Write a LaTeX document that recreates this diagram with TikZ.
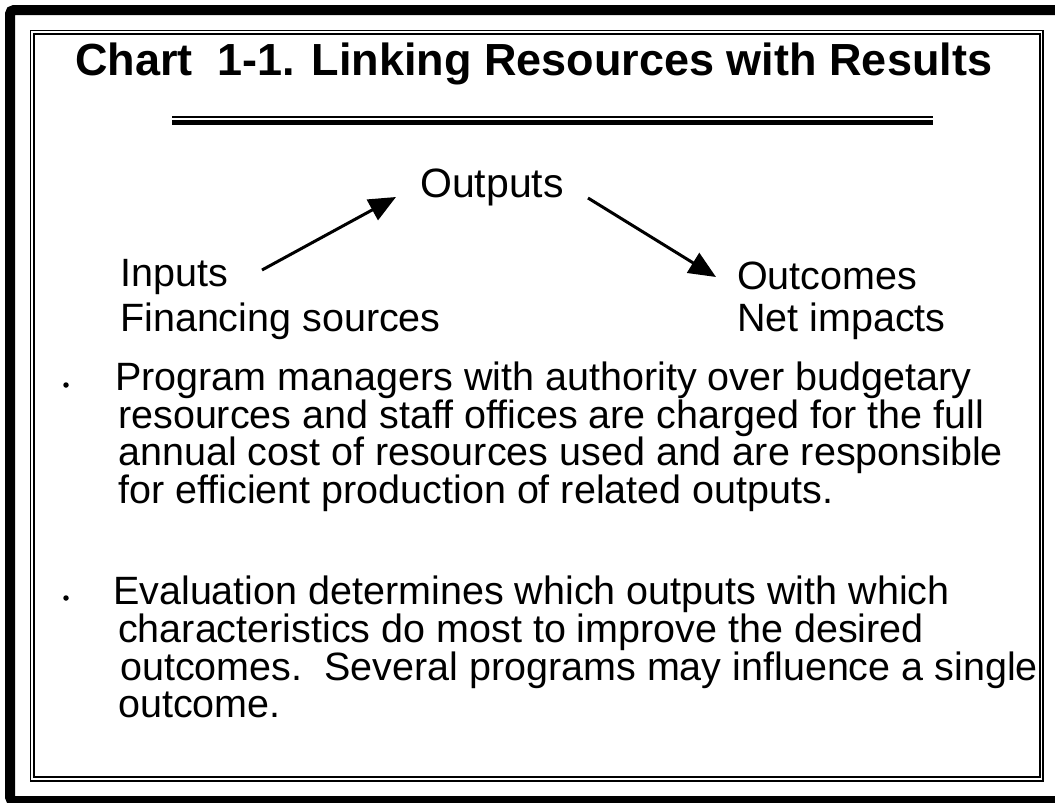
\documentclass[tikz,border=0pt]{standalone}
\usepackage{fontspec}
\setmainfont{Liberation Sans}
\usetikzlibrary{arrows.meta}
\begin{document}
\begin{tikzpicture}[x=1pt,y=-1pt,
  txt/.style={anchor=base west,inner sep=0pt,font=\fontsize{39.5}{40}\selectfont},
  big/.style={anchor=base west,inner sep=0pt,font=\fontsize{41}{41}\selectfont},
  ttl/.style={anchor=base west,inner sep=0pt,font=\fontsize{45}{45}\selectfont\bfseries},
  conn/.style={line width=3pt,-{Triangle[length=27pt,width=23pt]}},
  dot/.style={circle,fill=black,inner sep=0pt,minimum size=5.5pt},
  frameline/.style={line width=1.3pt}]
\useasboundingbox (0,0) rectangle (1055,803);
% outer thick frame
\draw[line width=10pt,rounded corners=4pt] (10,10) rectangle (1070,801);
% inner double frame
\draw[frameline] (30.5,30.5) rectangle (1043,781);
\draw[frameline] (34,34) rectangle (1040,777);
% title
\node[ttl] (title) at (75,75) {Chart\ \ 1-1. Linking Resources with Results};
% title rule
\draw[line width=1.3pt] (172,117) -- (933,117);
\draw[line width=5pt] (172,122.5) -- (933,122.5);
% diagram
\node[big] (outputs) at (420,197) {Outputs};
\node[txt] (inputs) at (120,286) {Inputs};
\node[txt] (fin) at (120,331) {Financing sources};
\node[txt] (outcomes) at (737,289) {Outcomes};
\node[txt] (net) at (737,331) {Net impacts};
\coordinate (a1s) at (262,270);
\coordinate (a1e) at (396,197);
\coordinate (a2s) at (588,198);
\coordinate (a2e) at (716,277);
\draw[conn] (a1s) -- (a1e);
\draw[conn] (a2s) -- (a2e);
% bullets
\node[dot] (d1) at (66,385) {};
\node[txt] (p1) at (115,390) {Program managers with authority over budgetary};
\node[txt] (p2) at (118,428) {resources and staff offices are charged for the full};
\node[txt] (p3) at (118,465) {annual cost of resources used and are responsible};
\node[txt] (p4) at (118,503) {for efficient production of related outputs.};
\node[dot] (d2) at (66,598) {};
\node[txt] (q1) at (113,604) {Evaluation determines which outputs with which};
\node[txt] (q2) at (118,642) {characteristics do most to improve the desired};
\node[txt] (q3) at (120,680) {outcomes.\ \ Several programs may influence a single};
\node[txt] (q4) at (118,717) {outcome.};
\end{tikzpicture}
\end{document}
